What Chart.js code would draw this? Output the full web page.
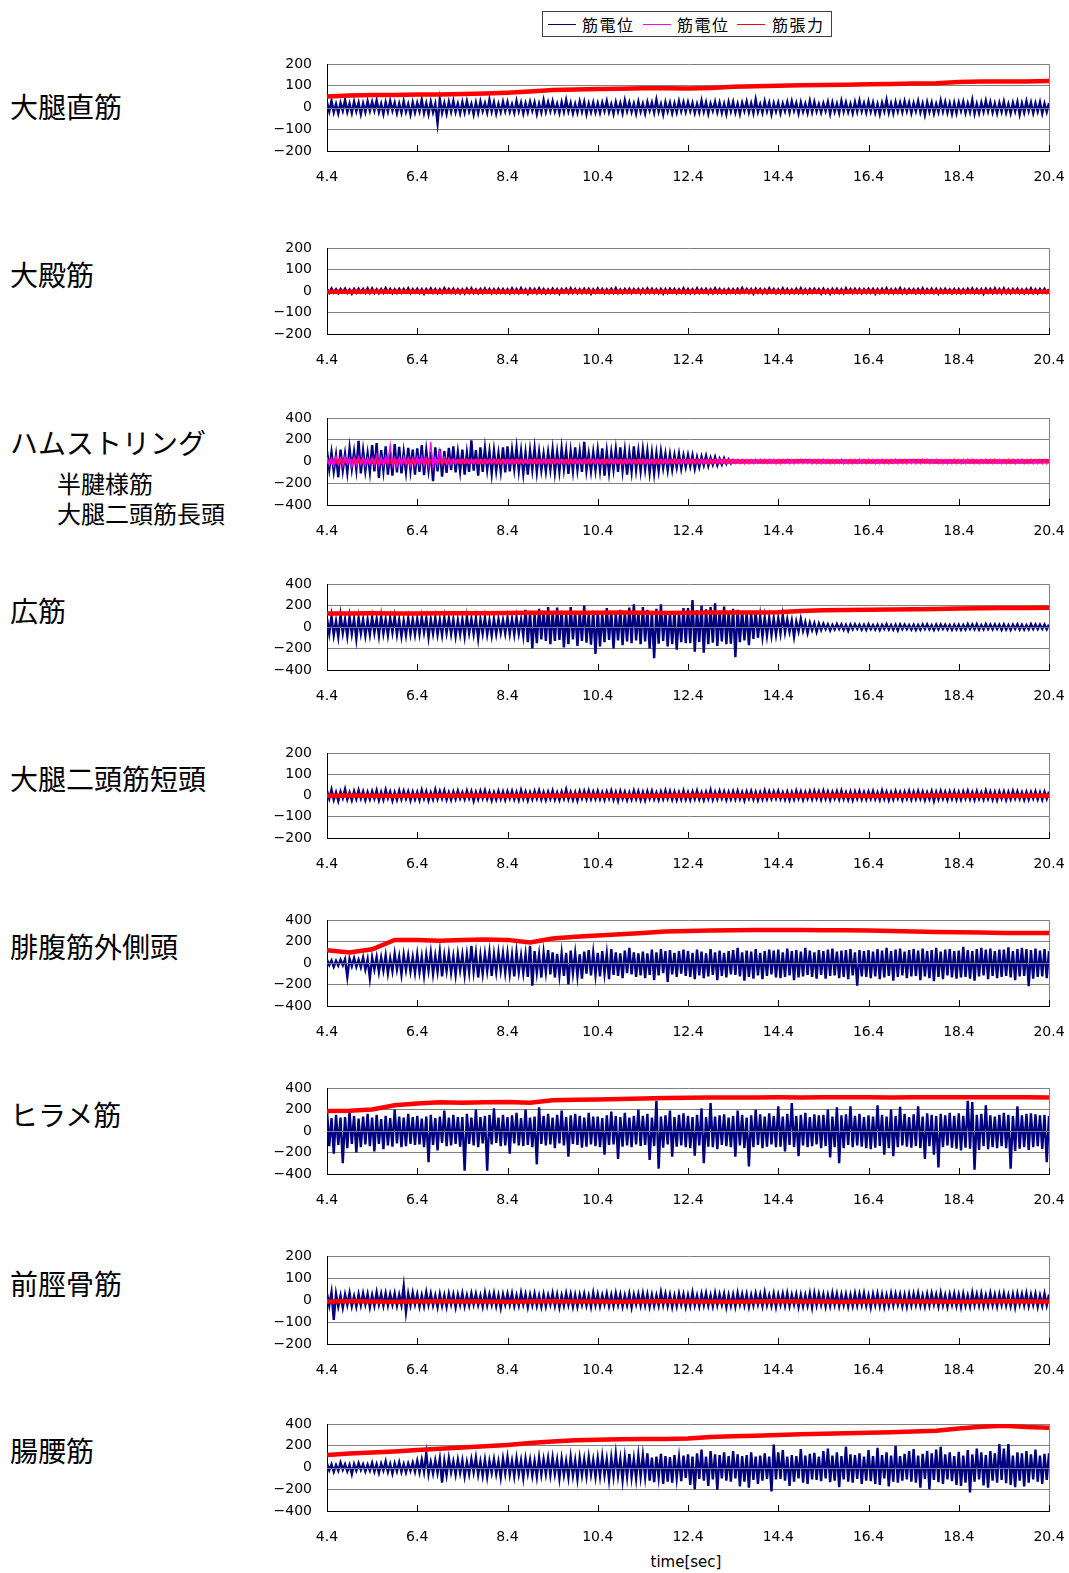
<!DOCTYPE html>
<html lang="ja">
<head>
<meta charset="utf-8">
<title>筋電位・筋張力</title>
<script src="https://cdn.jsdelivr.net/npm/chart.js@4.4.1/dist/chart.umd.min.js"></script>
<style>
  html, body { margin: 0; padding: 0; background: #fff; }
  body { position: relative; width: 1069px; height: 1573px; overflow: hidden;
         font-family: "Noto Sans CJK JP", "Noto Sans", sans-serif; color: #000; }
  .name { position: absolute; left: 10px; font-size: 28px; line-height: 28px; white-space: nowrap; }
  .name.sub { left: 57px; font-size: 24px; line-height: 24px; }
  .panel { position: absolute; left: 0; width: 1069px; }
  .panel canvas { display: block; }
  #legend { position: absolute; left: 542px; top: 11px; width: 288px; height: 24px;
            border: 1px solid #404040; background: #fff; }
  #legend .line { position: absolute; top: 12px; width: 28px; height: 0; border-top: 1px solid; }
  #legend .txt { position: absolute; top: 2px; font-size: 16px; line-height: 20px; letter-spacing: 1.5px; white-space: nowrap; }
  #xtitle { position: absolute; top: 1553px; left: 586px; width: 200px; text-align: center;
            font-family: "DejaVu Sans", sans-serif; font-size: 15px; line-height: 18px; }
</style>
</head>
<body>

<div id="legend">
  <span class="line" style="left:5px;border-color:#000080"></span><span class="txt" style="left:39px">筋電位</span>
  <span class="line" style="left:100px;border-color:#FF00FF"></span><span class="txt" style="left:134px">筋電位</span>
  <span class="line" style="left:194px;border-color:#FF0000"></span><span class="txt" style="left:229px">筋張力</span>
</div>

<div class="name" style="top:92px">大腿直筋</div>
<div class="name" style="top:260px">大殿筋</div>
<div class="name" style="top:428px">ハムストリング</div>
<div class="name sub" style="top:471px">半腱様筋</div>
<div class="name sub" style="top:501px">大腿二頭筋長頭</div>
<div class="name" style="top:596px">広筋</div>
<div class="name" style="top:764px">大腿二頭筋短頭</div>
<div class="name" style="top:932px">腓腹筋外側頭</div>
<div class="name" style="top:1100px">ヒラメ筋</div>
<div class="name" style="top:1269px">前脛骨筋</div>
<div class="name" style="top:1436px">腸腰筋</div>

<div id="xtitle">time[sec]</div>

<script>
// ---- time axis ----
const timeTicks = [4.4, 6.4, 8.4, 10.4, 12.4, 14.4, 16.4, 18.4, 20.4];
const timeStart = 4.4;
const timeEnd = 20.4;
const emgStep = 1 / 20;    // EMG samples every 0.05 s (one row = 1 s)
const forceStep = 0.5;     // force samples every 0.5 s

// ---- value axes ----
const ticks200 = [-200, -100, 0, 100, 200];
const ticks400 = [-400, -200, 0, 200, 400];

// ---- 大腿直筋 ----
const rectusEmg = [
  24,-18,31,-22,16,-27,21,-15,34,-20,18,-25,27,-17,22,-30,19,-21,28,-16,
  26,-14,33,-21,17,-29,24,-19,30,-15,22,-26,18,-24,29,-20,16,-31,23,-23,
  21,-18,36,-25,19,-30,26,-22,17,-72,38,-24,20,-28,25,-19,30,-21,18,-26,
  24,-22,29,-18,16,-31,22,-25,27,-16,20,-23,35,-19,24,-28,17,-21,26,-17,
  25,-20,15,-24,30,-17,22,-27,19,-21,26,-15,23,-29,18,-22,33,-19,24,-16,
  28,-18,17,-25,24,-20,34,-17,21,-26,16,-23,27,-19,25,-30,18,-21,22,-22,
  19,-24,22,-16,29,-21,15,-28,24,-18,20,-25,32,-17,23,-20,18,-27,26,-19,
  17,-27,25,-15,22,-23,35,-19,16,-31,24,-18,21,-26,19,-22,28,-17,24,-20,
  24,-17,20,-25,16,-22,31,-19,23,-28,18,-15,26,-21,22,-24,17,-29,25,-18,
  25,-23,17,-29,21,-16,27,-22,19,-25,36,-20,15,-24,28,-17,22,-30,19,-18,
  21,-26,18,-17,24,-22,28,-15,20,-27,23,-19,17,-24,29,-21,25,-18,16,-23,
  19,-16,25,-28,22,-20,17,-25,30,-18,23,-21,16,-26,24,-19,31,-17,20,-22,
  27,-19,22,-24,16,-30,21,-17,35,-23,19,-26,24,-18,22,-20,28,-16,23,-25,
  20,-17,29,-22,18,-33,24,-19,22,-27,16,-21,31,-18,25,-23,19,-28,21,-25,
  23,-16,26,-24,19,-21,34,-28,17,-25,22,-19,30,-17,24,-22,18,-26,21,-20,
  27,-23,16,-26,21,-18,25,-31,19,-22,28,-16,23,-25,20,-19,24,-27,18,-20,
  20
];
const rectusForce = [50,55,57,58,60,60,62,64,68,74,80,83,85,86,88,88,87,90,95,98,100,102,103,105,107,108,110,112,117,119,120,120,122];

// ---- 大殿筋 ----
const gluteusEmg = [
  9,-8,12,-7,8,-10,9,-6,11,-9,7,-12,9,-8,10,-7,9,-8,12,-9,
  12,-9,8,-10,9,-8,13,-7,9,-10,8,-9,10,-8,9,-7,12,-9,8,-7,
  10,-9,8,-12,9,-7,12,-8,9,-10,8,-9,13,-7,9,-8,10,-9,8,-10,
  8,-10,10,-8,12,-9,7,-10,9,-8,12,-7,9,-10,8,-9,10,-8,9,-9,
  8,-10,12,-8,9,-9,13,-7,8,-12,10,-8,9,-9,12,-8,9,-10,7,-9,
  10,-9,8,-12,9,-7,10,-9,12,-8,9,-10,8,-9,10,-8,9,-12,8,-8,
  12,-7,9,-10,8,-9,10,-8,13,-9,7,-10,9,-8,10,-9,8,-7,9,-10,
  9,-8,12,-7,10,-9,8,-10,9,-12,8,-9,10,-7,9,-10,8,-8,12,-9,
  9,-10,8,-9,12,-8,9,-7,10,-10,8,-9,12,-8,9,-9,7,-10,9,-8,
  8,-9,10,-8,13,-7,9,-9,8,-12,10,-8,9,-10,8,-9,12,-7,9,-10,
  8,-9,12,-8,9,-10,7,-9,10,-8,12,-9,8,-10,9,-8,10,-7,9,-12,
  10,-9,7,-12,9,-8,10,-9,8,-10,12,-7,9,-9,10,-8,9,-10,8,-8,
  10,-8,9,-12,8,-9,10,-7,12,-9,8,-10,9,-8,13,-9,8,-10,9,-7,
  8,-10,9,-8,12,-9,8,-7,10,-9,9,-12,8,-9,10,-8,7,-10,9,-9,
  9,-10,8,-9,10,-7,12,-8,9,-9,8,-13,10,-8,9,-9,12,-8,9,-10,
  12,-9,8,-10,9,-8,10,-9,7,-10,9,-8,12,-9,8,-10,9,-7,10,-8,
  8
];
const gluteusForce = [-3,-3,-2,-3,-4,-3,-2,-3,-3,-4,-3,-2,-3,-3,-2,-3,-4,-3,-3,-2,-3,-3,-4,-3,-2,-3,-3,-3,-4,-3,-2,-3,-3];

// ---- ハムストリング（半腱様筋・大腿二頭筋長頭） ----
const semitendinosusEmg = [
  95,-70,85,-90,60,-145,110,-80,70,-100,120,-65,90,-75,190,-110,100,-85,75,-95,
  150,-90,170,-150,105,-85,140,-120,90,-130,160,-100,135,-110,85,-95,125,-80,110,-120,
  120,-95,150,-125,100,-80,90,-180,130,-90,115,-140,95,-105,125,-80,140,-100,85,-90,
  110,-120,80,-95,195,-85,105,-130,130,-95,120,-75,90,-110,100,-85,75,-90,130,-100,
  140,-90,105,-70,125,-85,95,-110,80,-120,100,-75,120,-95,90,-80,70,-90,85,-75,
  110,-100,85,-90,120,-70,100,-115,95,-85,130,-75,90,-95,180,-80,70,-90,85,-80,
  105,-80,120,-130,90,-100,85,-75,110,-95,130,-85,100,-120,80,-90,140,-75,95,-85,
  110,-70,95,-100,80,-110,75,-85,90,-60,70,-80,65,-75,60,-55,70,-65,55,-50,
  60,-45,55,-65,40,-50,45,-35,50,-40,35,-30,40,-35,25,-28,30,-22,20,-18,
  12,-10,9,-8,10,-7,8,-9,6,-8,7,-6,8,-7,6,-5,7,-6,8,-6,
  7,-6,8,-5,6,-7,5,-8,6,-5,7,-6,8,-5,6,-7,5,-6,7,-5,
  7,-5,8,-6,5,-7,6,-5,8,-6,7,-5,6,-8,5,-7,6,-5,7,-6,
  5,-7,6,-6,8,-5,7,-6,5,-7,6,-8,7,-5,6,-6,5,-7,8,-6,
  5,-6,7,-5,6,-8,5,-6,7,-5,6,-7,8,-5,6,-6,7,-5,6,-7,
  6,-8,5,-6,7,-5,6,-7,8,-6,5,-6,7,-5,8,-7,6,-5,6,-7,
  6,-7,5,-6,8,-5,7,-6,5,-8,6,-5,7,-6,5,-7,6,-5,8,-5,
  6
];
const bicepsLongEmg = [
  40,-35,30,-45,50,-30,35,-40,45,-25,30,-50,40,-35,45,-30,38,-42,35,-28,
  35,-30,60,-45,40,-35,50,-30,150,-40,35,-50,40,-35,45,-30,38,-45,32,-40,
  45,-30,50,-40,35,-45,180,-60,40,-35,100,-30,40,-25,30,-28,25,-22,20,-20,
  20,-18,22,-20,24,-18,21,-23,19,-20,22,-17,21,-19,23,-20,18,-22,20,-22,
  19,-21,17,-20,22,-18,20,-23,18,-19,21,-17,22,-20,18,-21,19,-22,17,-20,
  18,-22,19,-17,21,-20,18,-23,20,-18,22,-19,17,-21,20,-18,23,-20,19,-20,
  21,-19,18,-22,20,-17,23,-19,21,-18,20,-22,17,-20,19,-21,18,-20,22,-17,
  22,-20,17,-21,19,-22,18,-20,21,-17,19,-23,20,-18,22,-19,17,-21,20,-18,
  20,-17,21,-19,18,-22,19,-20,17,-21,22,-18,20,-19,21,-17,23,-20,18,-22,
  19,-18,22,-20,18,-21,17,-22,20,-19,21,-18,22,-17,19,-20,21,-18,20,-21,
  18,-22,20,-18,21,-19,17,-21,20,-18,22,-20,19,-17,21,-22,18,-20,19,-21,
  21,-17,20,-22,18,-20,19,-18,22,-21,17,-20,18,-22,20,-19,21,-17,19,-19,
  22,-18,19,-21,17,-20,22,-19,18,-21,20,-17,21,-22,19,-18,20,-21,17,-20,
  19,-22,18,-20,21,-17,22,-19,20,-18,21,-20,17,-22,19,-21,18,-20,22,-20,
  17,-21,20,-19,22,-18,21,-20,18,-22,19,-17,21,-20,18,-19,22,-18,20,-21,
  18,-20,21,-17,19,-21,20,-18,22,-20,18,-19,21,-22,17,-20,19,-21,18,-22,
  20
];
const hamstringForce = [1,2,1,0,1,2,1,1,0,1,2,1,1,0,1,1,2,1,0,1,1,2,1,1,0,1,2,1,1,0,1,1,2];

// ---- 広筋 ----
const vastusEmg = [
  80,-60,100,-75,55,-90,110,-55,70,-85,95,-65,75,-110,85,-60,70,-80,65,-70,
  90,-55,75,-80,100,-60,70,-75,85,-50,95,-70,65,-85,60,-75,80,-65,70,-70,
  75,-65,90,-50,80,-95,70,-60,85,-70,65,-75,90,-55,80,-65,70,-85,60,-70,
  70,-85,95,-55,75,-65,80,-105,70,-60,90,-70,60,-80,75,-65,70,-55,65,-60,
  85,-65,75,-70,90,-60,70,-80,160,-140,130,-200,120,-150,170,-115,150,-130,185,-160,
  140,-130,180,-120,150,-190,125,-160,185,-115,140,-175,135,-130,200,-145,120,-165,150,-250,
  150,-180,125,-140,175,-120,145,-200,130,-125,160,-170,140,-135,180,-150,210,-125,140,-160,
  185,-135,160,-200,140,-290,170,-155,210,-130,150,-180,135,-160,145,-210,125,-140,175,-150,
  175,-150,250,-230,155,-140,200,-240,165,-160,185,-145,220,-175,150,-135,190,-160,140,-155,
  170,-280,160,-140,150,-125,135,-170,125,-110,145,-100,100,-90,90,-80,85,-75,80,-70,
  80,-60,110,-50,70,-45,60,-90,50,-40,75,-35,45,-55,40,-30,35,-45,30,-28,
  30,-20,25,-30,20,-22,28,-18,24,-26,20,-35,22,-20,25,-18,22,-24,20,-25,
  25,-20,18,-24,22,-28,20,-18,26,-22,19,-25,21,-30,24,-19,22,-20,18,-23,
  20,-26,18,-24,23,-19,25,-21,17,-27,22,-20,24,-18,21,-23,19,-25,20,-22,
  21,-25,19,-22,26,-18,23,-20,25,-24,18,-21,27,-19,22,-20,24,-18,21,-26,
  24,-23,19,-26,21,-18,25,-22,20,-24,18,-21,26,-19,23,-20,22,-18,24,-20,
  22
];
const vastusForce = [125,126,127,125,126,128,127,129,131,132,133,133,133,134,132,130,132,134,135,134,138,148,155,157,160,163,165,168,172,175,176,177,178];

// ---- 大腿二頭筋短頭 ----
const bicepsShortEmg = [
  22,-15,28,-20,15,-25,18,-12,30,-18,14,-22,20,-16,25,-14,19,-21,16,-18,
  20,-14,24,-22,16,-19,26,-13,18,-24,15,-20,22,-17,21,-15,18,-23,17,-18,
  16,-21,25,-15,19,-23,14,-18,27,-16,20,-14,23,-19,15,-20,18,-16,22,-14,
  15,-17,22,-14,19,-25,16,-18,21,-13,24,-16,17,-22,15,-19,20,-16,18,-20,
  19,-14,21,-18,16,-20,24,-15,18,-22,15,-17,20,-14,23,-18,16,-21,17,-15,
  22,-19,14,-21,18,-15,28,-17,16,-20,15,-23,19,-14,20,-17,22,-16,18,-16,
  21,-17,15,-20,18,-14,22,-19,16,-24,20,-15,17,-21,14,-18,22,-16,19,-20,
  16,-22,19,-15,21,-17,14,-20,18,-16,23,-14,20,-19,17,-21,15,-18,22,-18,
  15,-20,18,-16,22,-18,14,-21,17,-15,25,-19,16,-17,21,-14,18,-20,16,-17,
  19,-17,21,-16,15,-22,18,-14,20,-18,16,-21,15,-17,22,-16,19,-15,18,-14,
  20,-16,14,-19,17,-21,15,-18,22,-14,18,-20,16,-15,19,-17,21,-14,18,-19,
  21,-15,18,-20,16,-14,19,-18,22,-16,15,-19,17,-21,18,-15,20,-17,16,-17,
  18,-15,20,-17,14,-19,23,-16,17,-21,15,-18,20,-14,16,-20,17,-15,21,-18,
  17,-16,20,-15,18,-21,14,-17,19,-25,16,-18,21,-15,17,-20,18,-16,19,-19,
  16,-19,18,-14,21,-17,15,-20,19,-16,14,-18,22,-15,17,-19,16,-21,18,-15,
  18,-20,16,-17,21,-14,19,-16,15,-20,17,-18,16,-14,19,-17,15,-19,17,-15,
  18
];
const bicepsShortForce = [-1,0,-1,-2,-1,-1,0,-1,-2,-1,-1,0,-1,-1,-2,-1,0,-1,-1,-2,-1,-1,0,-1,-2,-1,-1,0,-1,-1,-2,-1,-1];

// ---- 腓腹筋外側頭 ----
const gastrocEmg = [
  30,-20,25,-35,20,-25,30,-20,35,-130,40,-30,45,-35,30,-40,50,-60,35,-140,
  50,-60,55,-85,50,-70,70,-95,45,-75,85,-60,60,-105,75,-65,70,-80,55,-90,
  80,-85,60,-115,75,-70,95,-100,65,-80,105,-125,70,-75,85,-90,60,-110,80,-70,
  75,-110,80,-85,160,-80,90,-135,70,-100,85,-75,100,-120,80,-85,95,-70,90,-90,
  90,-100,75,-125,100,-85,70,-95,80,-130,160,-210,110,-90,80,-135,95,-85,120,-105,
  100,-135,85,-115,90,-120,95,-200,115,-95,90,-120,80,-145,105,-100,120,-115,95,-110,
  95,-125,110,-100,85,-150,130,-110,100,-120,90,-140,115,-95,140,-105,100,-130,90,-115,
  105,-140,90,-110,125,-160,100,-115,130,-95,110,-175,120,-105,95,-130,110,-100,125,-120,
  110,-130,95,-150,125,-115,105,-140,90,-125,130,-110,100,-160,115,-120,95,-135,110,-105,
  120,-110,140,-125,100,-165,115,-130,105,-145,130,-115,95,-150,110,-120,125,-105,115,-135,
  125,-140,100,-130,135,-115,110,-160,120,-135,105,-125,140,-110,115,-130,100,-145,120,-110,
  110,-145,125,-120,135,-115,105,-140,115,-130,120,-150,130,-115,100,-210,120,-125,110,-130,
  120,-140,105,-125,130,-150,115,-135,140,-120,110,-165,125,-130,135,-115,105,-140,120,-125,
  130,-120,115,-160,135,-125,110,-140,120,-170,140,-130,105,-150,125,-115,130,-135,110,-145,
  115,-135,150,-130,120,-145,110,-165,130,-125,140,-115,125,-150,135,-120,110,-140,125,-130,
  125,-120,145,-135,110,-160,130,-125,140,-120,130,-215,120,-145,135,-130,115,-125,130,-140,
  110
];
const gastrocForce = [118,97,128,215,215,207,215,218,215,190,228,245,255,268,280,292,298,302,305,308,308,307,305,305,303,298,293,288,285,283,280,280,280];

// ---- ヒラメ筋 ----
const soleusEmg = [
  190,-140,120,-210,150,-130,125,-300,130,-160,175,-120,140,-200,115,-150,135,-125,160,-140,
  125,-190,150,-120,110,-170,140,-135,120,-145,200,-115,135,-150,125,-140,160,-120,130,-130,
  140,-125,115,-150,135,-290,150,-130,120,-180,135,-110,190,-140,125,-135,150,-120,130,-145,
  130,-370,160,-120,125,-135,200,-150,130,-115,140,-370,150,-125,210,-110,125,-140,150,-135,
  130,-210,145,-115,170,-135,120,-140,200,-130,125,-150,135,-310,220,-120,140,-135,160,-125,
  125,-160,150,-115,190,-135,130,-240,145,-120,160,-130,140,-155,125,-145,170,-125,135,-140,
  135,-150,120,-220,145,-130,180,-125,140,-260,130,-145,170,-135,125,-150,140,-125,200,-140,
  140,-130,160,-270,125,-140,280,-350,135,-155,145,-125,190,-240,130,-145,150,-135,165,-150,
  140,-160,130,-230,150,-135,210,-300,130,-145,260,-150,135,-170,145,-130,155,-140,125,-150,
  140,-240,190,-135,150,-160,125,-330,145,-150,200,-130,155,-160,135,-145,165,-125,140,-150,
  230,-145,135,-190,160,-130,260,-150,140,-235,150,-135,170,-150,130,-140,155,-125,145,-160,
  150,-140,200,-245,135,-150,220,-300,145,-160,155,-130,230,-150,140,-135,160,-145,130,-160,
  145,-170,135,-155,240,-140,150,-220,135,-160,200,-235,140,-150,225,-135,160,-145,130,-155,
  155,-140,230,-160,135,-260,165,-140,150,-220,140,-340,160,-150,145,-135,170,-155,140,-165,
  165,-180,140,-155,280,-165,270,-360,150,-175,160,-140,240,-170,145,-150,135,-160,150,-140,
  170,-160,150,-350,140,-185,230,-165,145,-150,160,-175,165,-150,155,-140,145,-170,150,-290,
  140
];
const soleusForce = [185,188,200,240,255,268,262,268,270,262,285,290,292,298,303,308,310,312,312,312,313,312,313,314,313,312,313,314,313,313,314,313,312];

// ---- 前脛骨筋 ----
const tibialisEmg = [
  30,-25,35,-90,28,-30,20,-35,25,-22,32,-28,18,-30,26,-24,30,-20,27,-32,
  22,-26,35,-20,28,-25,30,-24,27,-21,29,-26,24,-22,62,-55,28,-24,33,-20,
  26,-30,22,-27,35,-21,29,-25,20,-32,27,-26,22,-30,28,-20,25,-33,24,-22,
  30,-27,21,-25,29,-20,27,-23,20,-29,32,-24,26,-21,30,-27,22,-35,25,-20,
  28,-22,29,-27,21,-25,33,-20,26,-31,24,-23,28,-26,20,-30,25,-28,22,-20,
  30,-26,24,-33,21,-25,29,-22,26,-30,23,-29,24,-21,27,-25,20,-30,32,-23,
  26,-28,22,-20,29,-26,23,-27,30,-22,25,-29,21,-24,28,-32,24,-20,27,-25,
  30,-24,26,-30,23,-27,21,-25,35,-22,28,-26,24,-31,20,-28,28,-21,25,-30,
  22,-26,33,-24,20,-28,27,-23,30,-25,22,-27,30,-23,25,-21,28,-32,22,-26,
  24,-29,31,-20,26,-24,26,-30,22,-24,29,-20,25,-27,33,-23,21,-26,28,-31,
  24,-22,28,-25,30,-27,23,-21,26,-30,24,-28,22,-25,29,-33,30,-24,27,-22,
  25,-29,23,-26,31,-21,28,-27,24,-23,26,-28,23,-26,29,-24,27,-22,30,-25,
  21,-32,26,-23,28,-27,25,-30,22,-26,29,-24,27,-21,25,-28,23,-30,26,-24,
  27,-22,30,-25,21,-28,26,-24,29,-20,24,-27,31,-23,22,-29,25,-21,28,-26,
  23,-30,27,-25,20,-28,32,-22,26,-24,29,-27,21,-25,30,-23,24,-28,26,-21,
  29,-24,22,-27,25,-31,28,-20,26,-23,30,-26,24,-22,27,-29,21,-25,28,-24,
  25
];
const tibialisForce = [-7,-6,-7,-8,-7,-6,-7,-7,-8,-7,-6,-7,-7,-8,-7,-6,-7,-7,-8,-7,-6,-7,-7,-8,-7,-6,-7,-7,-8,-7,-6,-7,-7];

// ---- 腸腰筋 ----
const iliopsoasEmg = [
  35,-25,28,-40,22,-30,45,-20,30,-35,25,-60,32,-28,40,-22,30,-35,26,-30,
  42,-38,30,-50,35,-28,55,-40,32,-55,38,-35,48,-42,30,-45,36,-30,44,-38,
  60,-45,70,-40,130,-60,50,-55,65,-50,80,-140,60,-70,85,-45,55,-65,70,-50,
  65,-80,50,-60,75,-45,90,-65,55,-75,70,-85,60,-50,75,-60,55,-90,80,-55,
  95,-65,60,-80,85,-60,65,-95,80,-55,70,-75,60,-85,90,-65,75,-60,85,-70,
  90,-60,70,-100,80,-70,60,-90,95,-75,65,-105,85,-70,75,-80,95,-65,70,-85,
  85,-80,100,-70,75,-110,90,-80,125,-75,80,-115,95,-85,125,-90,80,-100,110,-85,
  110,-85,130,-120,90,-135,100,-90,125,-150,105,-130,95,-140,115,-100,90,-125,110,-95,
  120,-160,100,-200,130,-105,165,-120,100,-170,150,-110,120,-205,115,-100,140,-120,105,-130,
  150,-100,120,-175,105,-130,115,-185,140,-115,100,-150,110,-120,130,-105,100,-220,210,-110,
  140,-105,160,-120,100,-170,115,-130,105,-100,170,-140,110,-150,125,-110,135,-115,100,-125,
  150,-100,175,-135,110,-120,140,-180,105,-110,190,-130,120,-140,115,-105,130,-150,100,-120,
  160,-125,105,-150,180,-160,115,-100,140,-175,110,-130,200,-140,105,-120,125,-110,150,-130,
  170,-140,110,-185,125,-105,150,-200,130,-115,165,-135,190,-150,120,-110,140,-125,105,-160,
  145,-170,110,-140,160,-230,120,-130,175,-110,140,-165,115,-185,150,-120,130,-140,215,-115,
  175,-145,215,-160,110,-180,140,-120,130,-175,150,-140,120,-110,165,-130,110,-150,125,-115,
  130
];
const iliopsoasForce = [116,128,137,148,160,172,183,195,208,225,240,250,256,260,262,262,266,280,287,293,298,305,310,316,320,325,330,338,358,375,383,372,366];

// ---- drawing ----
const emgColor = '#000080';
const emg2Color = '#FF00FF';
const forceColor = '#FF0000';
const gridColor = '#808080';
const clear = 'rgba(0,0,0,0)';

const panels = [
  { top: 64,   height: 87, yTicks: ticks200, emg: rectusEmg,         force: rectusForce },
  { top: 248,  height: 86, yTicks: ticks200, emg: gluteusEmg,        force: gluteusForce },
  { top: 418,  height: 87, yTicks: ticks400, emg: semitendinosusEmg, force: hamstringForce, emg2: bicepsLongEmg },
  { top: 584,  height: 86, yTicks: ticks400, emg: vastusEmg,         force: vastusForce },
  { top: 753,  height: 85, yTicks: ticks200, emg: bicepsShortEmg,    force: bicepsShortForce },
  { top: 920,  height: 86, yTicks: ticks400, emg: gastrocEmg,        force: gastrocForce },
  { top: 1088, height: 86, yTicks: ticks400, emg: soleusEmg,         force: soleusForce },
  { top: 1256, height: 88, yTicks: ticks200, emg: tibialisEmg,       force: tibialisForce },
  { top: 1424, height: 87, yTicks: ticks400, emg: iliopsoasEmg,      force: iliopsoasForce }
];

const toPoints = (vals, step) => vals.map((v, i) => ({ x: timeStart + i * step, y: v }));

// zero line over the EMG trace and inward tick marks on the time axis
const axisMarks = {
  id: 'axisMarks',
  beforeDatasetDraw(chart, args) {
    if (args.index !== 1) return;
    const ctx = chart.ctx;
    const y = Math.round(chart.scales.y.getPixelForValue(0)) + 0.5;
    ctx.save();
    ctx.strokeStyle = gridColor;
    ctx.lineWidth = 1;
    ctx.beginPath();
    ctx.moveTo(chart.chartArea.left, y);
    ctx.lineTo(chart.chartArea.right, y);
    ctx.stroke();
    ctx.restore();
  },
  afterDraw(chart) {
    const ctx = chart.ctx;
    const xs = chart.scales.x;
    const bottom = chart.chartArea.bottom;
    ctx.save();
    ctx.strokeStyle = '#000';
    ctx.lineWidth = 1;
    ctx.beginPath();
    xs.ticks.forEach(t => {
      const x = Math.round(xs.getPixelForValue(t.value)) + 0.5;
      ctx.moveTo(x, bottom);
      ctx.lineTo(x, bottom - 6);
    });
    ctx.stroke();
    ctx.restore();
  }
};

const tickFont = { family: 'DejaVu Sans', size: 14 };

panels.forEach(p => {
  const wrap = document.createElement('div');
  wrap.className = 'panel';
  wrap.style.top = (p.top - 10) + 'px';
  const canvas = document.createElement('canvas');
  canvas.width = 1069;
  canvas.height = p.height + 50;
  wrap.appendChild(canvas);
  document.body.appendChild(wrap);

  const yMin = p.yTicks[0];
  const yMax = p.yTicks[p.yTicks.length - 1];

  const datasets = [
    { data: toPoints(p.emg, emgStep), borderColor: emgColor, borderWidth: 2.4, order: 3 },
    { data: toPoints(p.force, forceStep), borderColor: forceColor, borderWidth: 4.5, order: 2 }
  ];
  if (p.emg2) {
    datasets.push({ data: toPoints(p.emg2, emgStep), borderColor: emg2Color, borderWidth: 1.3, order: 1 });
  }
  datasets.forEach(d => { d.pointRadius = 0; d.tension = 0; d.fill = false; });

  new Chart(canvas, {
    type: 'line',
    data: { datasets },
    plugins: [axisMarks],
    options: {
      responsive: false,
      animation: false,
      devicePixelRatio: 1,
      events: [],
      layout: { autoPadding: false, padding: { left: 260, right: 20, top: 10, bottom: 0 } },
      plugins: { legend: { display: false }, tooltip: { enabled: false } },
      scales: {
        x: {
          type: 'linear',
          min: timeStart,
          max: timeEnd,
          afterBuildTicks: s => { s.ticks = timeTicks.map(v => ({ value: v })); },
          afterFit: s => { s.height = 40; s.paddingLeft = 0; s.paddingRight = 0; },
          ticks: { autoSkip: false, maxRotation: 0, padding: 18, color: '#000', font: tickFont,
                   callback: v => v.toFixed(1) },
          grid: { drawTicks: false, lineWidth: 1,
                  color: c => (c.index === timeTicks.length - 1 ? gridColor : clear) },
          border: { color: '#000', width: 1 }
        },
        y: {
          min: yMin,
          max: yMax,
          afterBuildTicks: s => { s.ticks = p.yTicks.map(v => ({ value: v })); },
          afterFit: s => { s.width = 67; s.paddingTop = 0; s.paddingBottom = 0; },
          ticks: { autoSkip: false, padding: 15, color: '#000', font: tickFont,
                   callback: v => (v < 0 ? '\u2212' + Math.abs(v) : String(v)) },
          grid: { drawTicks: false, lineWidth: 1,
                  color: c => (c.tick && c.tick.value === yMin ? clear : gridColor) },
          border: { color: '#000', width: 1 }
        }
      }
    }
  });
});
</script>
</body>
</html>
